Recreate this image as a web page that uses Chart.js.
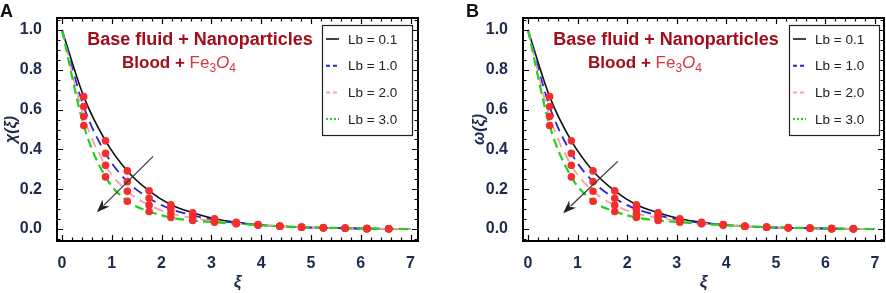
<!DOCTYPE html>
<html>
<head>
<meta charset="utf-8">
<script src="https://cdn.jsdelivr.net/npm/chart.js@4.4.1/dist/chart.umd.min.js"></script>
<style>
  html, body { margin: 0; padding: 0; background: #fff; }
  #wrap { position: relative; width: 886px; height: 293px; }
  .panel { position: absolute; top: 0; width: 443px; height: 293px; }
</style>
</head>
<body>
<div id="wrap">
  <div class="panel" style="left:0"><canvas id="panel-a" width="443" height="293"></canvas></div>
  <div class="panel" style="left:443px"><canvas id="panel-b" width="443" height="293"></canvas></div>
</div>
<script>
const xi = [0, 0.4375, 0.875, 1.3125, 1.75, 2.1875, 2.625, 3.0625, 3.5, 3.9375, 4.375, 4.8125, 5.25, 5.6875, 6.125, 6.5625, 7];

// profiles for each Lb (panel B reads the same values as panel A)
const lb01 = [1, 0.665, 0.443, 0.292, 0.192, 0.122, 0.082, 0.052, 0.034, 0.022, 0.014, 0.009, 0.006, 0.004, 0.002, 0.001, 0];
const lb10 = [1, 0.615, 0.380, 0.238, 0.155, 0.100, 0.069, 0.045, 0.031, 0.021, 0.014, 0.009, 0.006, 0.004, 0.002, 0.001, 0];
const lb20 = [1, 0.565, 0.320, 0.190, 0.120, 0.078, 0.056, 0.040, 0.028, 0.020, 0.014, 0.009, 0.006, 0.004, 0.002, 0.001, 0];
const lb30 = [1, 0.520, 0.262, 0.140, 0.088, 0.058, 0.043, 0.034, 0.027, 0.020, 0.014, 0.010, 0.007, 0.005, 0.003, 0.001, 0];

const lbLabels = ['Lb = 0.1', 'Lb = 1.0', 'Lb = 2.0', 'Lb = 3.0'];
const xTicks = [0, 1, 2, 3, 4, 5, 6, 7];
const yTicks = [0, 0.2, 0.4, 0.6, 0.8, 1.0];

const FONT = '"Liberation Sans", Arial, sans-serif';
const tickColor = '#1e2a4a';
const dotColor = '#f52d2d';

const lineStyles = [
  { color: '#111111', dash: [], width: 1.6, key: [] },
  { color: '#2424d8', dash: [10, 6], width: 1.8, key: [4, 3] },
  { color: '#f5a3a3', dash: [10, 6], width: 1.8, key: [4, 3] },
  { color: '#1fd21f', dash: [9, 5], width: 2.2, key: [2, 2] },
];

const toPoints = (vals) => xi.map((x, i) => ({ x, y: vals[i] }));

// frame, inward ticks, arrow, annotation and legend
const decorPlugin = {
  id: 'decor',
  afterDatasetsDraw(chart, args, o) {
    const { ctx, chartArea: a, scales: { x, y } } = chart;
    ctx.save();

    // ticks (pointing inward, on all four sides)
    ctx.strokeStyle = '#000';
    ctx.lineWidth = 1.2;
    ctx.beginPath();
    for (let k = 0; k <= 35; k++) {
      const v = k * 0.2;
      const px = Math.round(x.getPixelForValue(v)) + 0.5;
      const len = k % 5 === 0 ? 6 : 3.5;
      ctx.moveTo(px, a.bottom); ctx.lineTo(px, a.bottom - len);
      ctx.moveTo(px, a.top); ctx.lineTo(px, a.top + len);
    }
    for (let k = -1; k <= 21; k++) {
      const v = k * 0.05;
      const py = Math.round(y.getPixelForValue(v)) + 0.5;
      const len = k % 4 === 0 ? 6 : 3.5;
      ctx.moveTo(a.left, py); ctx.lineTo(a.left + len, py);
      ctx.moveTo(a.right, py); ctx.lineTo(a.right - len, py);
    }
    ctx.stroke();

    // frame
    ctx.lineWidth = 2;
    ctx.strokeRect(a.left, a.top, a.right - a.left, a.bottom - a.top);

    // arrow showing the increasing Lb direction
    const ar = o.arrow;
    const x0 = x.getPixelForValue(ar.from[0]), y0 = y.getPixelForValue(ar.from[1]);
    const x1 = x.getPixelForValue(ar.to[0]), y1 = y.getPixelForValue(ar.to[1]);
    const ang = Math.atan2(y1 - y0, x1 - x0);
    const head = 13;
    ctx.strokeStyle = '#333';
    ctx.fillStyle = '#222';
    ctx.lineWidth = 1.2;
    ctx.beginPath();
    ctx.moveTo(x0, y0);
    ctx.lineTo(x1 - Math.cos(ang) * head * 0.8, y1 - Math.sin(ang) * head * 0.8);
    ctx.stroke();
    ctx.beginPath();
    ctx.moveTo(x1, y1);
    ctx.lineTo(x1 - head * Math.cos(ang) + 5 * Math.sin(ang), y1 - head * Math.sin(ang) - 5 * Math.cos(ang));
    ctx.lineTo(x1 - head * 0.7 * Math.cos(ang), y1 - head * 0.7 * Math.sin(ang));
    ctx.lineTo(x1 - head * Math.cos(ang) - 5 * Math.sin(ang), y1 - head * Math.sin(ang) + 5 * Math.cos(ang));
    ctx.closePath();
    ctx.fill();

    // annotation text
    const cx1 = a.left + 143;
    ctx.textBaseline = 'alphabetic';
    ctx.textAlign = 'center';
    ctx.fillStyle = '#a30d18';
    ctx.font = 'bold 18px ' + FONT;
    ctx.fillText('Base fluid + Nanoparticles', cx1, a.top + 27);

    const parts = [
      { t: 'Blood + ', f: 'bold 17px ' + FONT, c: '#a30d18', dy: 0 },
      { t: 'Fe', f: '17px ' + FONT, c: '#d8383c', dy: 0 },
      { t: '3', f: '12px ' + FONT, c: '#d8383c', dy: 4 },
      { t: 'O', f: 'italic 17px ' + FONT, c: '#d8383c', dy: 0 },
      { t: '4', f: '12px ' + FONT, c: '#d8383c', dy: 4 },
    ];
    ctx.textAlign = 'left';
    let total = 0;
    parts.forEach(p => { ctx.font = p.f; total += ctx.measureText(p.t).width; });
    let tx = a.left + 122 - total / 2;
    parts.forEach(p => {
      ctx.font = p.f;
      ctx.fillStyle = p.c;
      ctx.fillText(p.t, tx, a.top + 50 + p.dy);
      tx += ctx.measureText(p.t).width;
    });

    // legend box
    const bw = 90, bh = 110;
    const bx = a.right - o.legendInset - bw, by = a.top + 7;
    ctx.fillStyle = '#fff';
    ctx.fillRect(bx, by, bw, bh);
    ctx.strokeStyle = '#222';
    ctx.lineWidth = 1.2;
    ctx.strokeRect(bx + 0.5, by + 0.5, bw, bh);
    ctx.font = '13.5px ' + FONT;
    ctx.textBaseline = 'middle';
    lbLabels.forEach((lab, i) => {
      const ry = by + 14 + i * 26.7;
      const st = lineStyles[i];
      ctx.strokeStyle = st.color;
      ctx.lineWidth = i === 0 ? 1.6 : 2;
      ctx.setLineDash(st.key);
      ctx.beginPath();
      ctx.moveTo(bx + 4, ry); ctx.lineTo(bx + 17, ry);
      ctx.stroke();
      ctx.setLineDash([]);
      ctx.fillStyle = '#222';
      ctx.fillText(lab, bx + 26, ry + 1);
    });

    // panel letter
    ctx.fillStyle = '#111';
    ctx.font = 'bold 18px ' + FONT;
    ctx.textBaseline = 'alphabetic';
    ctx.fillText(o.letter, o.letterX, 17);

    ctx.restore();
  }
};

const makePanel = (id, cfg) => {
  const ctx = document.getElementById(id);
  const series = [lb01, lb10, lb20, lb30];

  const lines = series.map((vals, i) => ({
    label: lbLabels[i],
    data: toPoints(vals),
    borderColor: lineStyles[i].color,
    borderWidth: lineStyles[i].width,
    borderDash: lineStyles[i].dash,
    pointRadius: 0,
    fill: false,
    cubicInterpolationMode: 'monotone',
    order: 4 - i + 1,
  }));

  const dots = series.map((vals) => ({
    data: toPoints(vals).slice(1, -1),
    showLine: false,
    pointRadius: 3.8,
    pointBackgroundColor: dotColor,
    pointBorderWidth: 0,
    order: 0,
  }));

  new Chart(ctx, {
    type: 'line',
    data: { datasets: [...lines, ...dots] },
    options: {
      responsive: false,
      animation: false,
      events: [],
      layout: {
        autoPadding: false,
        padding: { left: cfg.padLeft, top: 18, right: cfg.padRight, bottom: 0 },
      },
      scales: {
        x: {
          type: 'linear',
          min: -0.1,
          max: cfg.xMax,
          grid: { display: false },
          border: { display: false },
          afterBuildTicks: (s) => { s.ticks = xTicks.map(v => ({ value: v })); },
          afterFit: (s) => { s.height = 52; },
          ticks: {
            padding: 5,
            color: tickColor,
            font: { family: FONT, size: 16, weight: 'bold' },
            maxRotation: 0,
            callback: (v) => String(v),
          },
          title: {
            display: true,
            text: 'ξ',
            color: '#1e2a4a',
            padding: { top: 0, bottom: 0 },
            font: { family: FONT, size: 17, weight: 'bold', style: 'italic' },
          },
        },
        y: {
          min: -0.06,
          max: 1.06,
          grid: { display: false },
          border: { display: false },
          afterBuildTicks: (s) => { s.ticks = yTicks.map(v => ({ value: v })); },
          afterFit: (s) => { s.width = cfg.yWidth; },
          ticks: {
            padding: 7,
            color: tickColor,
            font: { family: FONT, size: 16, weight: 'bold' },
            callback: (v) => Number(v).toFixed(1),
          },
          title: {
            display: true,
            text: cfg.yTitle,
            color: '#1e2a4a',
            padding: { top: 2, bottom: 0 },
            font: { family: FONT, size: 16, weight: 'bold', style: 'italic' },
          },
        },
      },
      plugins: {
        legend: { display: false },
        tooltip: { enabled: false },
        decor: {
          arrow: cfg.arrow,
          legendInset: cfg.legendInset,
          letter: cfg.letter,
          letterX: cfg.letterX,
        },
      },
    },
    plugins: [decorPlugin],
  });
};

makePanel('panel-a', {
  letter: 'A', letterX: 0, yTitle: 'χ(ξ)',
  padLeft: 0, yWidth: 57, padRight: 25, xMax: 7.15,
  legendInset: 6,
  arrow: { from: [1.83, 0.365], to: [0.70, 0.085] },
});

makePanel('panel-b', {
  letter: 'B', letterX: 23, yTitle: 'ω(ξ)',
  padLeft: 25, yWidth: 55, padRight: 2, xMax: 7.18,
  legendInset: 5,
  arrow: { from: [1.81, 0.34], to: [0.71, 0.08] },
});
</script>
</body>
</html>
